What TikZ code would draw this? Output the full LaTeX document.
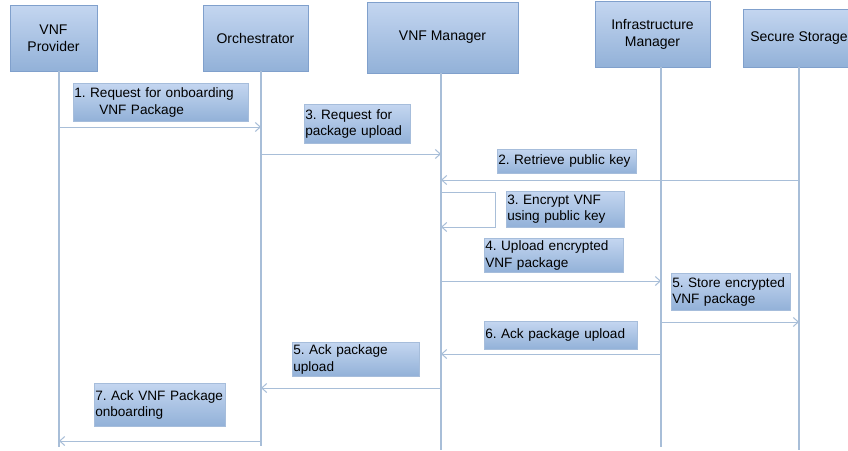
\documentclass[tikz,border=0pt]{standalone}
\usepackage{fontspec}
\setmainfont{Liberation Sans}
\usetikzlibrary{arrows.meta}
\frenchspacing
\hyphenpenalty=10000
\exhyphenpenalty=10000
\hbadness=10000
\hfuzz=20pt

\definecolor{boxtop}{RGB}{196,214,240}
\definecolor{boxbot}{RGB}{146,177,216}
\definecolor{boxline}{RGB}{128,160,204}
\definecolor{lifeline}{RGB}{168,190,216}

\tikzset{
  actor/.style={draw=boxline, line width=0.8pt, top color=boxtop, bottom color=boxbot,
    align=center, inner sep=2pt, font=\fontsize{14}{17}\selectfont},
  note/.style={draw=boxline!70, line width=0.5pt, top color=boxtop, bottom color=boxbot,
    anchor=north west, align=left, inner xsep=1pt, inner ysep=0pt,
    font=\fontsize{13.6}{16.5}\selectfont},
  life/.style={draw=lifeline, line width=1.4pt},
  msg/.style={draw=lifeline, line width=1pt, -{Straight Barb[length=5pt,width=9pt]}},
}

\begin{document}
\begin{tikzpicture}[x=1pt,y=-1pt]
  \useasboundingbox (0,0) rectangle (848,450);
  \fill[white] (0,0) rectangle (848,450);

  % participants
  \node[actor, minimum width=87pt, minimum height=66pt] (prov) at (53.5,38) {VNF\\Provider};
  \node[actor, minimum width=105pt, minimum height=66pt] (orch) at (255.5,38) {Orchestrator};
  \node[actor, minimum width=151pt, minimum height=71pt] (vnfm) at (442.5,37.5) {VNF Manager};
  \node[actor, minimum width=115pt, minimum height=66pt] (infra) at (652.5,34) {Infrastructure\\Manager};
  \node[actor, minimum width=112pt, minimum height=58pt] (store) at (799,38) {Secure Storage};

  % lifeline positions
  \coordinate (lp) at (59,447);
  \coordinate (lo) at (261,446);
  \coordinate (lm) at (441,450);
  \coordinate (li) at (661,447);
  \coordinate (ls) at (799,450);

  \draw[life] (prov.south -| lp) -- (lp);
  \draw[life] (orch.south -| lo) -- (lo);
  \draw[life] (vnfm.south -| lm) -- (lm);
  \draw[life] (infra.south -| li) -- (li);
  \draw[life] (store.south -| ls) -- (ls);

  % message labels (one unbreakable box per printed line)
  \node[note, text width=173pt, minimum height=38pt] (n1) at (73,83)
    {\mbox{1. Request for onboarding}\\\hspace*{25pt}\mbox{VNF Package}};
  \node[note, text width=104pt, minimum height=39pt] (n3a) at (304,104)
    {\mbox{3. Request for}\\\mbox{package upload}};
  \node[note, text width=137pt, minimum height=24pt] (n2) at (497,149)
    {\mbox{2. Retrieve public key}};
  \node[note, text width=116pt, minimum height=36pt] (n3b) at (506,191)
    {\mbox{3. Encrypt VNF}\\\mbox{using public key}};
  \node[note, text width=137pt, minimum height=34pt] (n4) at (484,238)
    {\mbox{4. Upload encrypted}\\\mbox{VNF package}};
  \node[note, text width=117pt, minimum height=37pt] (n5a) at (671,273)
    {\mbox{5. Store encrypted}\\\mbox{VNF package}};
  \node[note, text width=151pt, minimum height=28pt] (n6) at (484,321)
    {\mbox{6. Ack package upload}};
  \node[note, text width=125pt, minimum height=34pt] (n5b) at (292,342)
    {\mbox{5. Ack package}\\\mbox{upload}};
  \node[note, text width=129pt, minimum height=43pt] (n7) at (94,383)
    {\mbox{7. Ack VNF Package}\\\mbox{onboarding}};

  % messages
  \draw[msg] (lp |- 0,127) -- (lo |- 0,127);
  \draw[msg] (lo |- 0,154) -- (lm |- 0,154);
  \draw[msg] (ls |- 0,180) -- (lm |- 0,180);
  \draw[msg] (lm |- 0,192) -- ++(54,0) |- (lm |- 0,227);
  \draw[msg] (lm |- 0,281) -- (li |- 0,281);
  \draw[msg] (li |- 0,322) -- (ls |- 0,322);
  \draw[msg] (li |- 0,354) -- (lm |- 0,354);
  \draw[msg] (lm |- 0,388) -- (lo |- 0,388);
  \draw[msg] (lo |- 0,441) -- (lp |- 0,441);
\end{tikzpicture}
\end{document}
